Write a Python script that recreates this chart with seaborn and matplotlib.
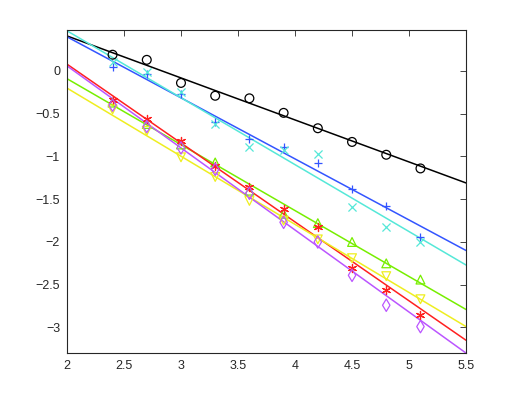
import numpy as np
import pandas as pd
import matplotlib
matplotlib.use("Agg")
import matplotlib.pyplot as plt
import seaborn as sns

# ---- data ----
x_pts = [2.4, 2.7, 3.0, 3.3, 3.6, 3.9, 4.2, 4.5, 4.8, 5.1]
black_pts = [0.19, 0.13, -0.14, -0.29, -0.32, -0.49, -0.67, -0.83, -0.98, -1.14]
blue_pts = [0.05, -0.04, -0.27, -0.60, -0.79, -0.89, -1.08, -1.38, -1.58, -1.94]
cyan_pts = [0.10, -0.01, -0.25, -0.62, -0.89, -0.93, -0.97, -1.59, -1.83, -2.00]
green_pts = [-0.37, -0.62, -0.86, -1.07, -1.40, -1.67, -1.78, -2.00, -2.25, -2.44]
red_pts = [-0.34, -0.56, -0.82, -1.11, -1.36, -1.62, -1.83, -2.30, -2.56, -2.86]
yellow_pts = [-0.45, -0.70, -1.01, -1.24, -1.52, -1.75, -1.97, -2.19, -2.40, -2.67]
purple_pts = [-0.40, -0.65, -0.90, -1.15, -1.43, -1.77, -2.00, -2.39, -2.74, -2.99]

fit_x = [2.0, 5.5]
black_fit = [0.41, -1.31]
blue_fit = [0.40, -2.10]
cyan_fit = [0.47, -2.27]
green_fit = [-0.09, -2.79]
red_fit = [0.08, -3.15]
yellow_fit = [-0.20, -2.99]
purple_fit = [0.06, -3.30]

x_ticks = [2, 2.5, 3, 3.5, 4, 4.5, 5, 5.5]
y_ticks = [0, -0.5, -1, -1.5, -2, -2.5, -3]

sns.set_style("white")
plt.rcParams['font.family'] = ['Liberation Sans', 'DejaVu Sans']
plt.rcParams['axes.unicode_minus'] = True

fig = plt.figure(figsize=(5.15, 3.99), dpi=100)
ax = fig.add_axes([0.130, 0.115, 0.775, 0.810])

series = [
    (black_pts, black_fit, '#000000', 'o', True),
    (blue_pts, blue_fit, '#3355ff', '+', False),
    (cyan_pts, cyan_fit, '#55e8d8', 'x', False),
    (green_pts, green_fit, '#77ee00', '^', True),
    (red_pts, red_fit, '#ff2020', (6, 2, 0), False),
    (yellow_pts, yellow_fit, '#eeee20', 'v', True),
    (purple_pts, purple_fit, '#bb55ff', 'd', True),
]

for pts, fit, col, mk, hollow in series:
    sns.lineplot(x=fit_x, y=fit, color=col, linewidth=1.1, ax=ax)
for pts, fit, col, mk, hollow in series:
    if hollow:
        sns.scatterplot(x=x_pts, y=pts, marker=mk, s=40, facecolors='none',
                        edgecolor=col, linewidth=0.9, ax=ax, zorder=3)
    else:
        sns.scatterplot(x=x_pts, y=pts, marker=mk, s=34, color=col,
                        linewidth=0.9, ax=ax, zorder=3)

ax.set_xlim(2, 5.5)
ax.set_ylim(-3.30, 0.48)
ax.set_xticks(x_ticks)
ax.set_xticklabels([f"{t:g}" for t in x_ticks])
ax.set_yticks(y_ticks)
ax.set_yticklabels([f"{t:g}".replace('-', '\u2212') for t in y_ticks])
ax.tick_params(direction='in', top=True, right=True, length=4, width=0.6,
               labelsize=9, colors='#262626', pad=5)
for s in ax.spines.values():
    s.set_color('#262626')
    s.set_linewidth(0.8)
ax.set_xlabel('')
ax.set_ylabel('')

fig.savefig('out.png', dpi=100, facecolor='white')
